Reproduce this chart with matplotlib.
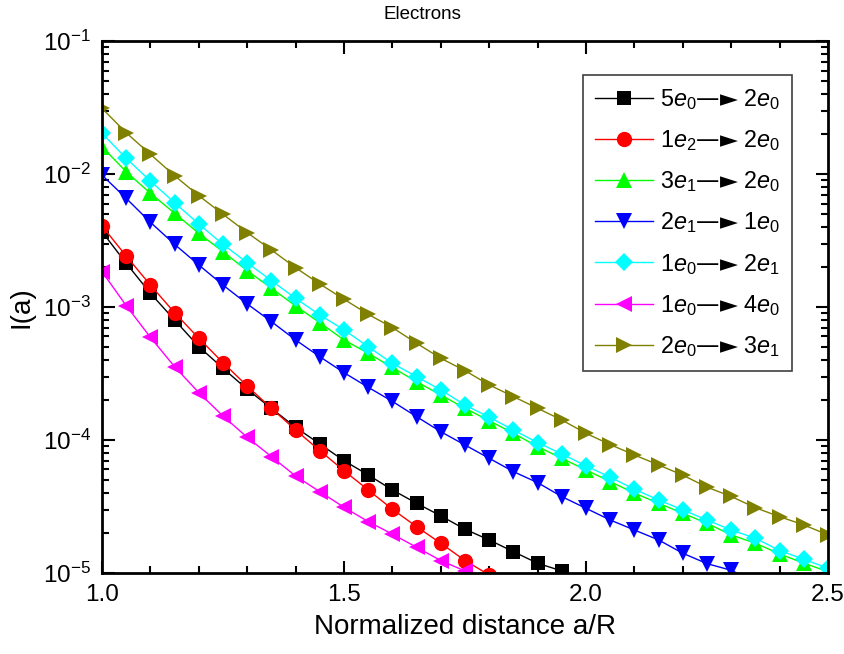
import numpy as np
import matplotlib
matplotlib.use("Agg")
import matplotlib.pyplot as plt
from matplotlib.ticker import LogLocator, MultipleLocator, NullFormatter

plt.rcParams['font.family'] = ['Liberation Sans', 'DejaVu Sans']
plt.rcParams['mathtext.fontset'] = 'custom'
plt.rcParams['mathtext.rm'] = 'Liberation Sans'
plt.rcParams['mathtext.it'] = 'Liberation Sans:italic'
plt.rcParams['mathtext.bf'] = 'Liberation Sans:bold'
plt.rcParams['mathtext.sf'] = 'DejaVu Sans'

# x positions: a/R from 1.0 in steps of 0.05
x_start, x_step = 1.0, 0.05

# log10 of I(a)
log_5e0_2e0 = [-2.434, -2.671, -2.897, -3.098, -3.298, -3.461, -3.619, -3.762, -3.905, -4.030,
               -4.156, -4.263, -4.376, -4.476, -4.571, -4.671, -4.752, -4.840, -4.927, -4.985, -5.06]
log_1e2_2e0 = [-2.391, -2.617, -2.835, -3.043, -3.235, -3.419, -3.594, -3.762, -3.925, -4.080,
               -4.231, -4.376, -4.521, -4.652, -4.777, -4.907, -5.015, -5.13]
log_3e1_2e0 = [-1.795, -1.983, -2.145, -2.295, -2.446, -2.584, -2.727, -2.859, -2.992, -3.118,
               -3.248, -3.348, -3.455, -3.562, -3.662, -3.762, -3.855, -3.950, -4.050, -4.138,
               -4.226, -4.313, -4.400, -4.476, -4.551, -4.627, -4.714, -4.777, -4.857, -4.927, -4.990]
log_2e1_1e0 = [-2.008, -2.183, -2.363, -2.529, -2.684, -2.835, -2.977, -3.110, -3.248, -3.374,
               -3.494, -3.604, -3.710, -3.825, -3.938, -4.038, -4.138, -4.238, -4.321, -4.426,
               -4.514, -4.602, -4.677, -4.752, -4.852, -4.930, -4.980, -5.07]
log_1e0_2e1 = [-1.694, -1.882, -2.053, -2.216, -2.376, -2.529, -2.667, -2.802, -2.935, -3.060,
               -3.172, -3.299, -3.424, -3.524, -3.624, -3.737, -3.829, -3.925, -4.020, -4.105,
               -4.195, -4.280, -4.371, -4.451, -4.526, -4.602, -4.677, -4.739, -4.832, -4.897, -4.965]
log_1e0_4e0 = [-2.734, -2.990, -3.228, -3.449, -3.644, -3.820, -3.980, -4.125, -4.271, -4.389,
               -4.506, -4.614, -4.708, -4.807, -4.907, -4.985, -5.08]
log_2e0_3e1 = [-1.506, -1.690, -1.852, -2.013, -2.163, -2.303, -2.441, -2.571, -2.705, -2.827,
               -2.942, -3.055, -3.155, -3.273, -3.386, -3.479, -3.586, -3.674, -3.762, -3.850,
               -3.950, -4.035, -4.113, -4.188, -4.265, -4.355, -4.425, -4.510, -4.577, -4.639, -4.714]

ARROW = r'\mathsf{—►}'
labels = [r'5$\mathit{e}_{0}' + ARROW + r'$ 2$\mathit{e}_{0}$',
          r'1$\mathit{e}_{2}' + ARROW + r'$ 2$\mathit{e}_{0}$',
          r'3$\mathit{e}_{1}' + ARROW + r'$ 2$\mathit{e}_{0}$',
          r'2$\mathit{e}_{1}' + ARROW + r'$ 1$\mathit{e}_{0}$',
          r'1$\mathit{e}_{0}' + ARROW + r'$ 2$\mathit{e}_{1}$',
          r'1$\mathit{e}_{0}' + ARROW + r'$ 4$\mathit{e}_{0}$',
          r'2$\mathit{e}_{0}' + ARROW + r'$ 3$\mathit{e}_{1}$']

series = [log_5e0_2e0, log_1e2_2e0, log_3e1_2e0, log_2e1_1e0, log_1e0_2e1, log_1e0_4e0, log_2e0_3e1]
colors = ['#000000', '#FF0000', '#00FF00', '#0000FF', '#00FFFF', '#FF00FF', '#808000']
markers = ['s', 'o', '^', 'v', 'D', '<', '>']
msizes = [9.5, 11, 11.5, 11.5, 9.5, 11.5, 11.5]

fig = plt.figure(figsize=(8.45, 6.54), dpi=100)
ax = fig.add_axes([0.1207, 0.1239, 0.98 - 0.1207, 0.9373 - 0.1239])

for vals, c, m, ms, lab in zip(series, colors, markers, msizes, labels):
    xs = x_start + x_step * np.arange(len(vals))
    ax.plot(xs, 10 ** np.array(vals), color=c, marker=m, markersize=ms, lw=1.0,
            markeredgewidth=0, label=lab)

ax.set_yscale('log')
ax.set_xlim(1.0, 2.5)
ax.set_ylim(1e-5, 1e-1)
ax.xaxis.set_major_locator(MultipleLocator(0.5))
ax.xaxis.set_minor_locator(MultipleLocator(0.1))
ax.xaxis.set_major_formatter(matplotlib.ticker.FormatStrFormatter('%.1f'))
ax.yaxis.set_major_locator(LogLocator(base=10, numticks=10))
ax.yaxis.set_minor_locator(LogLocator(base=10, subs=np.arange(2, 10), numticks=20))
ax.yaxis.set_minor_formatter(NullFormatter())

ax.tick_params(which='both', direction='in', top=True, right=True, width=1.5, labelsize=17.5)
ax.tick_params(which='major', length=9, pad=8)
ax.tick_params(which='minor', length=5)
for s in ax.spines.values():
    s.set_linewidth(2)

ax.set_xlabel('Normalized distance a/R', fontsize=20, labelpad=6)
ax.set_ylabel('I(a)', fontsize=20, labelpad=6)
fig.text(0.5, 0.978, 'Electrons', ha='center', va='center', fontsize=13.5)

leg = ax.legend(loc='upper left', bbox_to_anchor=(0.6625, 0.936), borderaxespad=0, fontsize=16.8,
                frameon=True, fancybox=False, framealpha=1, edgecolor='#404040',
                handlelength=2.5, labelspacing=0.70, borderpad=0.5, handletextpad=0.3)
leg.get_frame().set_linewidth(1.2)

fig.savefig('out.png', dpi=100)
